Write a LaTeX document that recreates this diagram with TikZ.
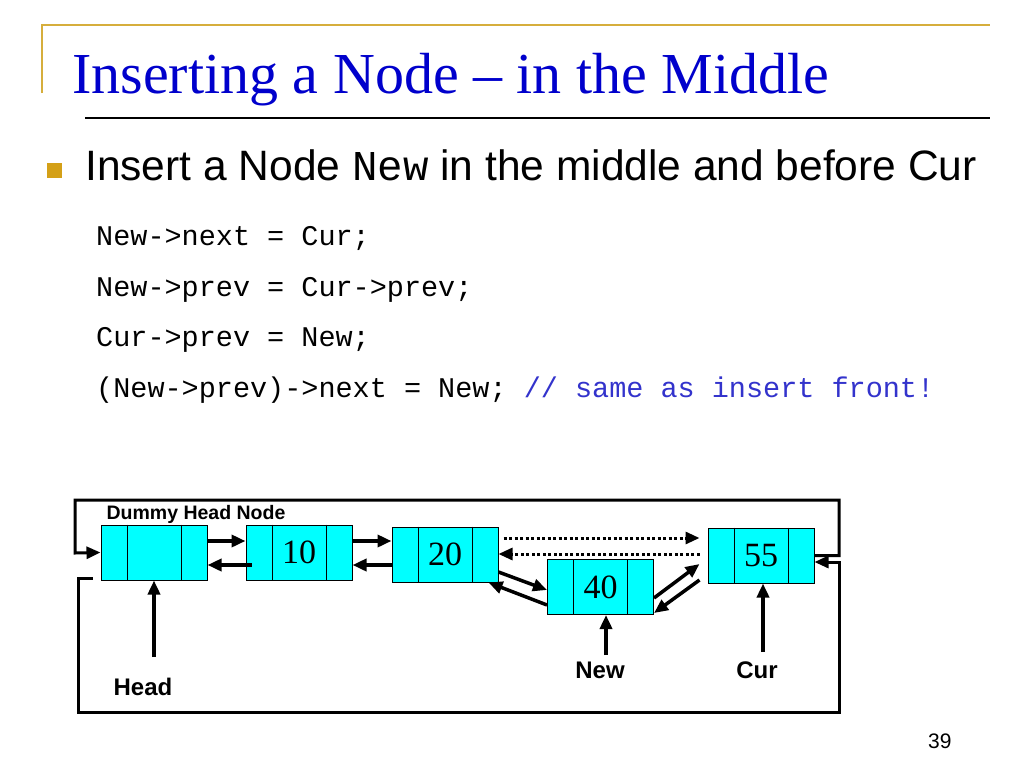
\documentclass[tikz,border=0pt]{standalone}
\usepackage{fontspec}
\setmainfont{Liberation Serif}
\newfontfamily\arial{Liberation Sans}
\newfontfamily\cour{Liberation Mono}
\usepackage{xcolor}
\usetikzlibrary{calc,arrows.meta}
\definecolor{cellcyan}{HTML}{00FFFF}
\definecolor{titleblue}{HTML}{0000CC}
\definecolor{cmtblue}{HTML}{3333CC}
\definecolor{goldline}{HTML}{D6AE3C}
\definecolor{goldbul}{HTML}{D4A017}
\tikzset{
  cell/.style={draw=black, line width=1pt, fill=cellcyan, minimum width=106pt, minimum height=55pt, inner sep=0pt, font=\fontsize{34}{34}\selectfont},
  ptr/.style={draw=black, line width=3.5pt, -{Triangle[length=14pt,width=12pt]}},
  dptr/.style={ptr, line width=3pt, dash pattern=on 3pt off 2.5pt},
  loop/.style={draw=black, line width=3pt, line join=miter, -{Triangle[length=14pt,width=12pt]}},
  lab/.style={anchor=base, inner sep=0pt, font=\arial\bfseries\fontsize{24}{26}\selectfont},
  code/.style={anchor=base west, inner sep=0pt, font=\cour\fontsize{28.5}{30}\selectfont},
}
\begin{document}
\begin{tikzpicture}[x=1pt,y=-1pt]
  \useasboundingbox[fill=white] (0,0) rectangle (1024,768);
  \draw[goldline, line width=2pt] (42,93) -- (42,25) -- (990,25);
  \draw[black, line width=1.3pt] (85,118) -- (990,118);
  \node[anchor=base west, inner sep=0pt, text=titleblue, font=\fontsize{58}{62}\selectfont] (title) at (72,93) {Inserting a Node -- in the Middle};
  \fill[goldbul] (47,163) rectangle (62,178);
  \node[anchor=base west, inner sep=0pt, font=\arial\fontsize{42.5}{46}\selectfont] (bullet) at (85,180) {Insert a Node {\cour New} in the middle and before Cur};
  \node[code] (c1) at (96,245) {New->next = Cur;};
  \node[code] (c2) at (96,296) {New->prev = Cur->prev;};
  \node[code] (c3) at (96,346) {Cur->prev = New;};
  \node[code] (c4) at (96,397) {(New->prev)->next = New; \textcolor{cmtblue}{// same as insert front!}};
  \node[anchor=base west, inner sep=0pt, font=\arial\fontsize{21}{22}\selectfont] (pg) at (928,748) {39};

  \node[cell] (dum) at (154,552.5) {};
  \node[cell] (n10) at (299,552.5) {10};
  \node[cell] (n20) at (445,554.5) {20};
  \node[cell] (n40) at (600.5,587) {40};
  \node[cell] (n55) at (761,555.5) {55};
  \foreach \n in {dum,n10,n20,n40,n55} {
    \draw[line width=1pt] ([xshift=26.5pt]\n.north west) -- ([xshift=26.5pt]\n.south west);
    \draw[line width=1pt] ([xshift=-26.5pt]\n.north east) -- ([xshift=-26.5pt]\n.south east);
  }
  \node[anchor=base, inner sep=0pt, font=\arial\bfseries\fontsize{19.5}{21}\selectfont] (dumlab) at (196,519) {Dummy Head Node};

  \draw[ptr] ([yshift=11.5pt]dum.east) -- ([yshift=11.5pt]n10.west);
  \draw[ptr] ([xshift=6pt,yshift=-12.5pt]n10.west) -- ([yshift=-12.5pt]dum.east);
  \draw[ptr] ([yshift=11.5pt]n10.east) -- ([yshift=11.5pt]n10.east -| n20.west);
  \draw[ptr] ([yshift=-12.5pt]n10.east -| n20.west) -- ([yshift=-12.5pt]n10.east);
  \draw[dptr, shorten <=5pt, shorten >=8pt] ([yshift=16.5pt]n20.east) -- ([yshift=16.5pt]n20.east -| n55.west);
  \draw[dptr, shorten <=8pt] ([yshift=0.5pt]n20.east -| n55.west) -- ([yshift=0.5pt]n20.east);
  \draw[ptr] ([yshift=-17.5pt]n20.east) -- ([yshift=-3pt]n40.west);
  \draw[ptr] ([yshift=-18pt]n40.west) -- ([xshift=-10pt]n20.south east);
  \draw[ptr] ([yshift=-11pt]n40.east) -- ([xshift=-8pt,yshift=-8.5pt]n55.west);
  \draw[ptr] ([xshift=-8pt,yshift=-24.5pt]n55.west) -- ([yshift=2pt]n40.south east);

  \draw[loop] (n55.east) -| (839,500) -| (75,553) -- (dum.west);
  \draw[loop] ([xshift=-8pt,yshift=-25.5pt]dum.west) -| (78,712) -| (839,562) -- ([yshift=-6.5pt]n55.east);

  \coordinate (hdtail) at (154,657);
  \coordinate (nwtail) at (606,655);
  \coordinate (curtail) at (763,652);
  \node[lab] (hd) at (143,695) {Head};
  \node[lab] (nw) at (600,678) {New};
  \node[lab] (cur) at (757,678) {Cur};
  \draw[ptr] (hdtail) -- (dum.south);
  \draw[ptr] (nwtail) -- (nwtail |- n40.south);
  \draw[ptr] (curtail) -- (curtail |- n55.south);
\end{tikzpicture}
\end{document}
